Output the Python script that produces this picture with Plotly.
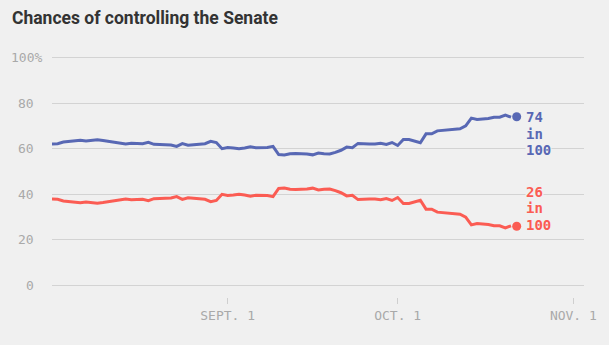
import pandas as pd
import plotly.graph_objects as go

# ---- data ----
start_date = "2016-08-01"
dem_chance = [62.1, 62.2, 62.9, 63.1, 63.3, 63.7, 63.4, 63.5, 63.9, 63.6,
              63.3, 62.8, 62.4, 62.1, 62.4, 62.2, 62.2, 62.8, 61.9, 61.8,
              61.8, 61.6, 61.0, 62.2, 61.5, 61.7, 61.8, 62.2, 63.2, 62.7,
              60.0, 60.5, 60.3, 60.0, 60.3, 60.8, 60.4, 60.4, 60.5, 61.0,
              57.4, 57.2, 57.8, 57.9, 57.9, 57.7, 57.3, 58.1, 57.8, 57.7,
              58.4, 59.3, 60.7, 60.4, 62.3, 62.1, 62.1, 62.1, 62.4, 61.9,
              62.7, 61.4, 64.0, 64.0, 63.3, 62.6, 66.5, 66.5, 67.8, 68.0,
              68.3, 68.7, 68.7, 70.0, 73.4, 72.8, 72.9, 73.2, 73.8, 73.8,
              74.7, 73.8]
rep_chance = [37.9, 37.8, 37.1, 36.9, 36.7, 36.3, 36.6, 36.5, 36.1, 36.4,
              36.7, 37.2, 37.6, 37.9, 37.6, 37.8, 37.8, 37.2, 38.1, 38.2,
              38.2, 38.4, 39.0, 37.8, 38.5, 38.3, 38.2, 37.8, 36.8, 37.3,
              40.0, 39.5, 39.7, 40.0, 39.7, 39.2, 39.6, 39.6, 39.5, 39.0,
              42.6, 42.8, 42.2, 42.1, 42.1, 42.3, 42.7, 41.9, 42.2, 42.3,
              41.6, 40.7, 39.3, 39.6, 37.7, 37.9, 37.9, 37.9, 37.6, 38.1,
              37.3, 38.6, 36.0, 36.0, 36.7, 37.4, 33.5, 33.5, 32.2, 32.0,
              31.7, 31.3, 31.3, 30.0, 26.6, 27.2, 27.1, 26.8, 26.2, 26.2,
              25.3, 26.2]
current_date = "2016-10-22"
current_dem = 74
current_rep = 26
y_ticks = [0, 20, 40, 60, 80, 100]
x_tick_dates = ["2016-09-01", "2016-10-01", "2016-11-01"]
x_tick_labels = ["SEPT. 1", "OCT. 1", "NOV. 1"]
title_text = "Chances of controlling the Senate"

dates = pd.date_range(start_date, periods=len(dem_chance), freq="D")

BLUE = "#5868b4"
RED = "#fb5c53"
BG = "#f0f0f0"
GRAY = "#a9a9a9"
MONO = "DejaVu Sans Mono"

fig = go.Figure()
fig.add_trace(go.Scatter(x=dates, y=rep_chance, mode="lines",
                         line=dict(color=RED, width=3), hoverinfo="skip"))
fig.add_trace(go.Scatter(x=dates, y=dem_chance, mode="lines",
                         line=dict(color=BLUE, width=3), hoverinfo="skip"))
fig.add_trace(go.Scatter(x=[current_date], y=[current_rep], mode="markers",
                         marker=dict(color=RED, size=9), hoverinfo="skip"))
fig.add_trace(go.Scatter(x=[current_date], y=[current_dem], mode="markers",
                         marker=dict(color=BLUE, size=9), hoverinfo="skip"))

annotations = []
# y tick labels
for v in y_ticks:
    txt = f"{v}%" if v == 100 else str(v)
    annotations.append(dict(x=0, xref="paper", y=v, yref="y", text=txt,
                            showarrow=False, xanchor="right", yanchor="middle",
                            xshift=-8 if v == 100 else -16,
                            font=dict(family=MONO, size=13, color=GRAY)))
# end labels
for lines, val, color, shifts in [
        ([str(current_dem), "in", "100"], current_dem, BLUE, [0, -16.5, -33]),
        ([str(current_rep), "in", "100"], current_rep, RED, [35, 18.5, 2])]:
    for t, s in zip(lines, shifts):
        annotations.append(dict(x=current_date, xref="x", y=val, yref="y",
                                text=f"<b>{t}</b>", showarrow=False,
                                xanchor="left", yanchor="middle",
                                xshift=8, yshift=s, bgcolor=BG, borderpad=0,
                                height=15,
                                font=dict(family=MONO, size=14, color=color)))

fig.update_layout(
    width=609, height=345,
    margin=dict(l=52, r=23, t=46, b=48),
    paper_bgcolor=BG, plot_bgcolor=BG,
    showlegend=False,
    title=dict(text=f"<b>{title_text}</b>", x=12 / 609, xref="container",
               xanchor="left", y=1 - 18 / 345, yanchor="middle",
               font=dict(family="Roboto", size=17.5, color="#333333")),
    annotations=annotations,
    xaxis=dict(range=["2016-08-01", "2016-11-02 21:00"], type="date",
               tickvals=x_tick_dates, ticktext=x_tick_labels,
               ticks="outside", ticklen=6, tickcolor="#cfcfcf", tickwidth=1,
               showgrid=False, zeroline=False, showline=False,
               tickfont=dict(family=MONO, size=13, color=GRAY)),
    yaxis=dict(range=[-5, 105], tickvals=y_ticks, showticklabels=False,
               showgrid=True, gridcolor="#d3d3d3", gridwidth=1,
               zeroline=False, showline=False),
)

fig.write_html("out.html")
